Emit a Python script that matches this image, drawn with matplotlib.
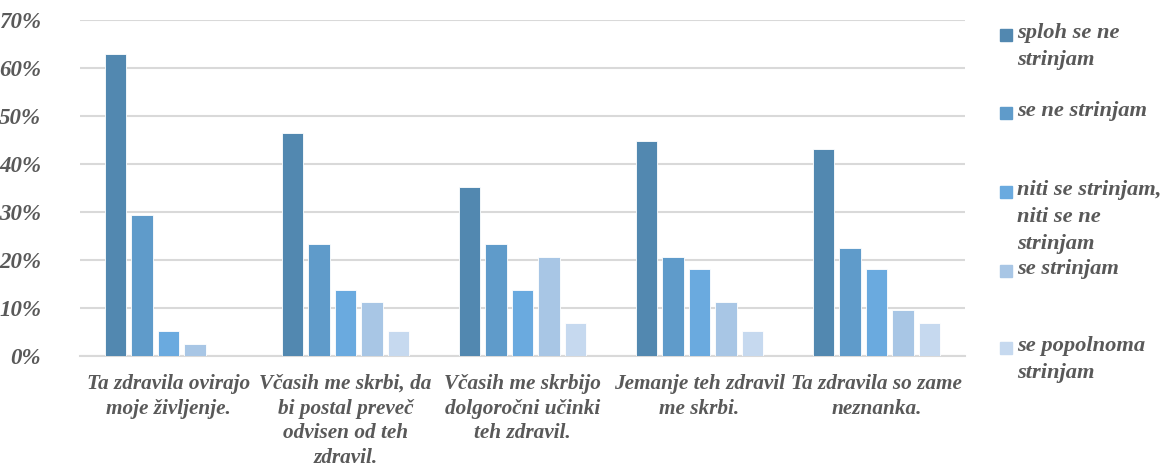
import matplotlib.pyplot as plt
from matplotlib.patches import Rectangle
import numpy as np

# Data
categories = [
    "Ta zdravila ovirajo\nmoje življenje.",
    "Včasih me skrbi, da\nbi postal preveč\nodvisen od teh\nzdravil.",
    "Včasih me skrbijo\ndolgoročni učinki\nteh zdravil.",
    "Jemanje teh zdravil\nme skrbi.",
    "Ta zdravila so zame\nneznanka.",
]
series_names = [
    "sploh se ne\nstrinjam",
    "se ne strinjam",
    "niti se strinjam,\nniti se ne\nstrinjam",
    "se strinjam",
    "se popolnoma\nstrinjam",
]
sploh_se_ne = [62.9, 46.5, 35.3, 44.8, 43.1]
se_ne = [29.3, 23.3, 23.3, 20.7, 22.4]
niti = [5.2, 13.8, 13.8, 18.1, 18.1]
se_strinjam = [2.5, 11.2, 20.7, 11.2, 9.5]
popolnoma = [0.0, 5.2, 6.9, 5.2, 6.9]

series = [sploh_se_ne, se_ne, niti, se_strinjam, popolnoma]
colors = ['#5288B0', '#5F9BCA', '#6AAADF', '#A8C6E5', '#C6D9EF']
text_color = '#595959'

plt.rcParams['font.family'] = ['Liberation Serif', 'DejaVu Serif']

fig = plt.figure(figsize=(11.72, 4.67), dpi=100)
ax = fig.add_axes([80 / 1172, 111 / 467, 885 / 1172, 336 / 467])

x = np.arange(len(categories))
step = 0.15
width = 0.12
for i, (vals, col) in enumerate(zip(series, colors)):
    ax.bar(x + (i - 2) * step, np.array(vals) / 100, width=width, color=col,
           edgecolor='white', linewidth=0.6, zorder=3)

ax.set_xlim(-0.5, len(categories) - 0.5)
ax.set_ylim(0, 0.7)
ax.set_yticks(np.arange(0, 0.71, 0.1))
ax.set_yticklabels([f"{int(round(v * 100))}%" for v in np.arange(0, 0.71, 0.1)])
ax.grid(axis='y', color='#D9D9D9', linewidth=1.5, zorder=0)
for s in ['top', 'right', 'left']:
    ax.spines[s].set_visible(False)
ax.spines['bottom'].set_color('#D9D9D9')
ax.spines['bottom'].set_linewidth(1.5)
ax.tick_params(axis='both', length=0)
ax.tick_params(axis='y', pad=28)
ax.tick_params(axis='x', pad=13)
ax.set_xticks(x)
ax.set_xticklabels(categories, linespacing=1.3)
for lbl in ax.get_xticklabels():
    lbl.set_fontsize(15.3)
for lbl in ax.get_yticklabels():
    lbl.set_fontsize(16.5)
for lbl in ax.get_xticklabels() + ax.get_yticklabels():
    lbl.set_fontstyle('italic')
    lbl.set_fontweight('bold')
    lbl.set_color(text_color)

# Legend drawn by hand to follow the original spacing
legend_y = [35, 113, 192, 271, 348]
for name, col, yp in zip(series_names, colors, legend_y):
    fig.add_artist(Rectangle((1000 / 1172, 1 - (yp + 6) / 467), 12 / 1172, 12 / 467,
                             transform=fig.transFigure, color=col))
    fig.text(1017 / 1172, 1 - (yp - 12) / 467, name, ha='left', va='top',
             fontsize=16.2, fontstyle='italic', fontweight='bold', color=text_color,
             linespacing=1.48)

plt.savefig('out.png', dpi=100)
